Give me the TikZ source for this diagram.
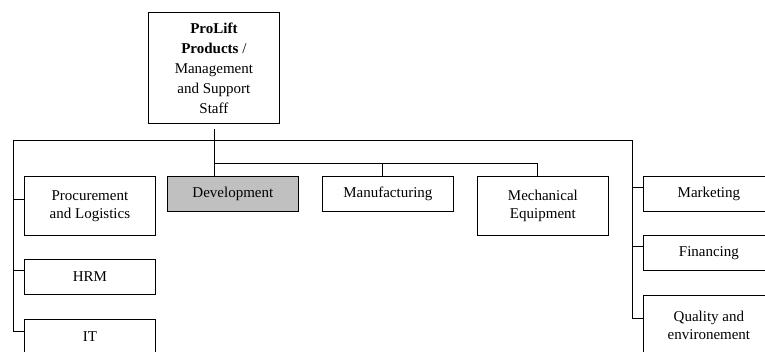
\documentclass[tikz,border=0pt]{standalone}
\usepackage{fontspec}
\setmainfont{Liberation Serif}
\definecolor{devgray}{HTML}{C0C0C0}

\begin{document}
\begin{tikzpicture}[x=1pt, y=-1pt, line width=0.8pt,
    unit/.style={draw, anchor=north west, minimum width=131pt, minimum height=35pt,
      align=center, inner sep=2pt, font=\fontsize{15}{18}\selectfont},
    tallunit/.style={unit, minimum height=59pt}]
        \useasboundingbox (0,0) rectangle (765,352);
        \clip (0,0) rectangle (765,352);

        % Nodes
        \node[unit, minimum height=111pt, font=\fontsize{15}{20}\selectfont] (top) at (148,12)
          {\textbf{ProLift}\\ \textbf{Products} /\\ Management\\ and Support\\ Staff};
        \node[tallunit] (pl)   at (24,176)  {Procurement\\ and Logistics};
        \node[unit]     (hrm)  at (24,259)  {HRM};
        \node[unit]     (it)   at (24,319)  {IT};
        \node[unit, fill=devgray] (dev) at (167,176) {Development};
        \node[unit]     (manu) at (322,176) {Manufacturing};
        \node[tallunit] (mech) at (477,176) {Mechanical\\ Equipment};
        \node[unit]     (mkt)  at (643,176) {Marketing};
        \node[unit]     (fin)  at (643,235) {Financing};
        \node[tallunit] (qual) at (643,295) {Quality and\\ environement};

        \coordinate (lbus) at (13,140);
        \coordinate (rbus) at (632,140);
        \coordinate (sub)  at (0,163);

        % Edges
        \draw[shorten <=5pt] (top.south) -- (top.south |- dev.north);
        \draw (lbus) -- (rbus);
        \draw (lbus) |- ([yshift=6pt]pl.west);
        \draw (lbus) |- ([yshift=6pt]hrm.west);
        \draw (lbus) |- ([yshift=6pt]it.west);
        \draw (rbus) |- ([yshift=6pt]mkt.west);
        \draw (rbus) |- ([yshift=6pt]fin.west);
        \draw (rbus) |- ([yshift=6pt]qual.west);
        \draw (top.south |- sub) -| ([xshift=-5.5pt]manu.north);
        \draw (top.south |- sub) -| ([xshift=-5.5pt]mech.north);

    \end{tikzpicture}
\end{document}
